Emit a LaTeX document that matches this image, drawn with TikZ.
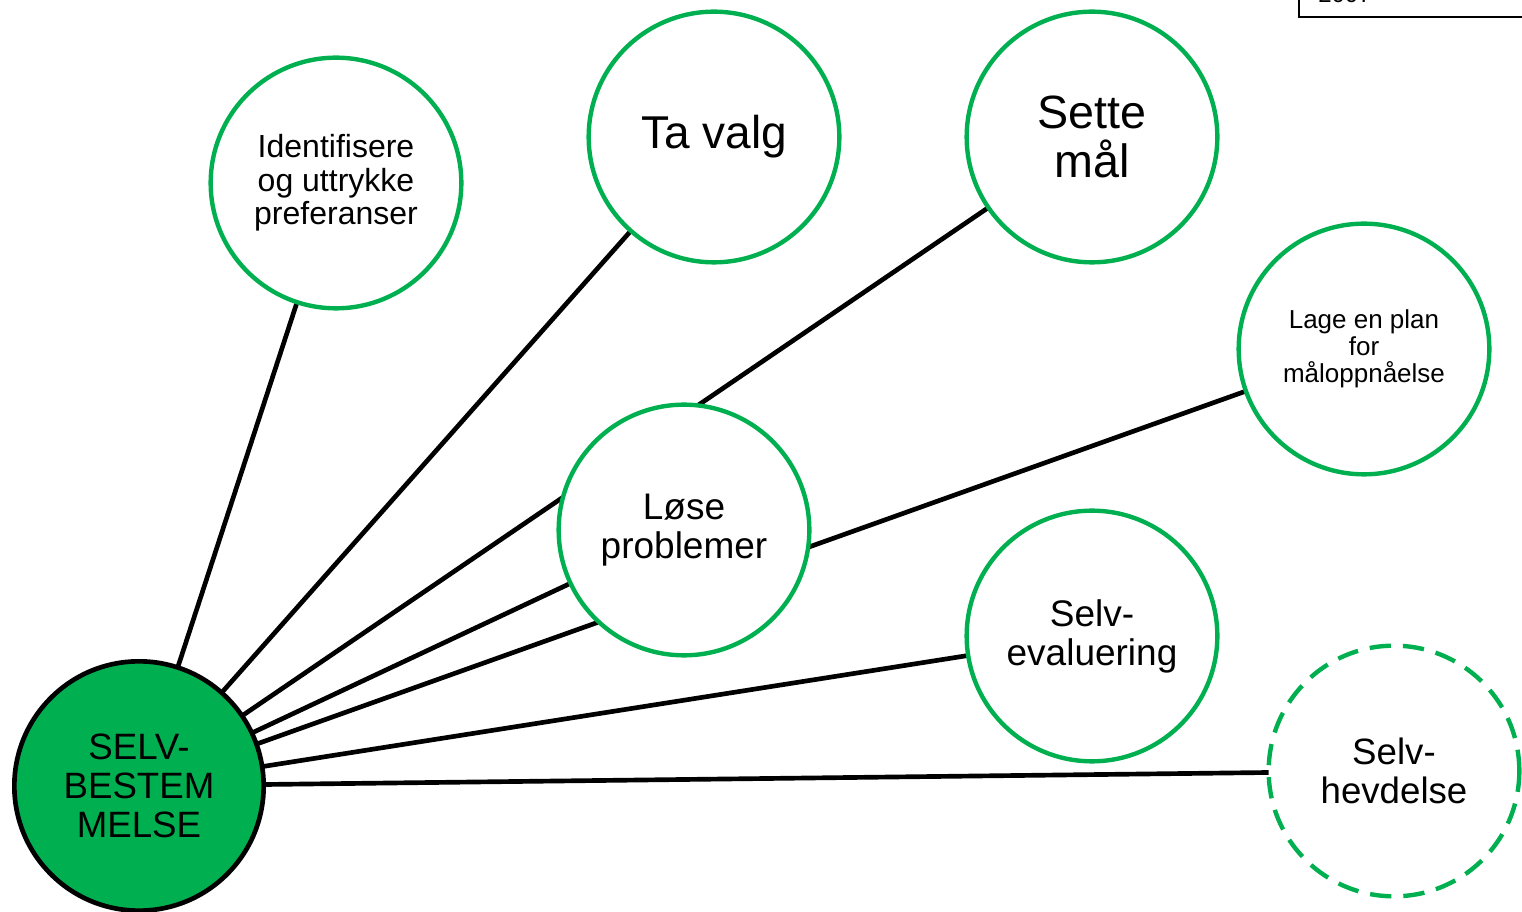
\documentclass[tikz,border=0pt]{standalone}
\usepackage{fontspec}
\setmainfont{Liberation Sans}
\usetikzlibrary{backgrounds}
\definecolor{grn}{HTML}{00B050}
\begin{document}
\begin{tikzpicture}[x=0.75pt,y=-0.75pt,
  bubble/.style={circle, draw=grn, line width=3.3pt, fill=white, minimum size=188pt, inner sep=0pt, align=center},
  dashbubble/.style={bubble, dash pattern=on 16pt off 9pt},
  hub/.style={circle, draw=black, line width=3.5pt, fill=grn, minimum size=187pt, inner sep=0pt, align=center},
  link/.style={draw=black, line width=3.5pt}]
\useasboundingbox (0,0) rectangle (1522,912);
\clip (0,0) rectangle (1522,912);
% note box at top right (cut by the page edge)
\node[draw=black, line width=1.5pt, minimum width=240pt, minimum height=40pt, anchor=south west, inner sep=0pt] (note) at (1298,18) {};
\node[anchor=base west, inner sep=0pt, font=\fontsize{18}{20}\selectfont] (notetext) at (1318,3) {2007};
% nodes
\node[hub, font=\fontsize{27.5}{29}\selectfont] (selv) at (139,786) {SELV-\\BESTEM\\MELSE};
\node[bubble, font=\fontsize{24}{25}\selectfont] (ident) at (336,183) {Identifisere\\og uttrykke\\preferanser};
\node[bubble, font=\fontsize{34.5}{36}\selectfont] (tavalg) at (714,137) {Ta valg};
\node[bubble, font=\fontsize{35}{36.75}\selectfont] (sette) at (1092,137) {Sette\\mål};
\node[bubble, font=\fontsize{19.5}{20.25}\selectfont] (plan) at (1364,349) {Lage en plan\\for\\måloppnåelse};
\node[bubble, font=\fontsize{27.75}{29.25}\selectfont] (lose) at (684,530) {Løse\\problemer};
\node[bubble, font=\fontsize{27.75}{29.25}\selectfont] (eval) at (1092,636) {Selv-\\evaluering};
\node[dashbubble, font=\fontsize{27.5}{29.25}\selectfont] (hevd) at (1394,771) {Selv-\\hevdelse};
% connectors
\begin{scope}[on background layer]
\draw[link] (selv.center) -- (ident.center);
\draw[link] (selv.center) -- (tavalg.center);
\draw[link] (selv.center) -- (sette.center);
\draw[link] (selv.center) -- (lose.center);
\draw[link] (selv.center) -- (plan.center);
\draw[link] (selv.center) -- (eval.center);
\draw[link] (selv.center) -- (hevd.center);
\end{scope}
\end{tikzpicture}
\end{document}
